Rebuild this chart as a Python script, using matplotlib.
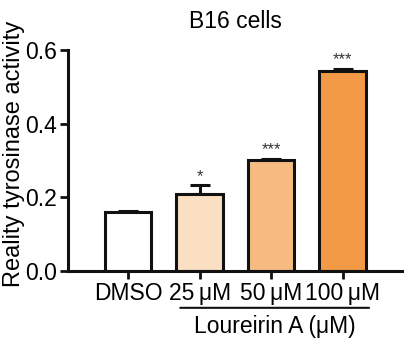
import matplotlib
matplotlib.use('Agg')
import matplotlib.pyplot as plt

plt.rcParams['font.family'] = ['Liberation Sans', 'DejaVu Sans']

groups = ['DMSO', '25\u2009\u03bcM', '50\u2009\u03bcM', '100\u2009\u03bcM']
values = [0.160, 0.209, 0.301, 0.543]
errors = [0.004, 0.023, 0.003, 0.006]
stars = ['', '*', '***', '***']
colors = ['#ffffff', '#fbdfc2', '#f5bb80', '#f29a45']

fig = plt.figure(figsize=(4.13, 3.51), dpi=100)
ax = fig.add_axes([0.165, 0.228, 0.808, 0.630])

x = list(range(len(groups)))
ax.bar(x, values, width=0.65, color=colors, edgecolor='#111111', linewidth=2.2, zorder=2)
ax.errorbar(x, values, yerr=[[0] * len(errors), errors], fmt='none', ecolor='#111111',
            elinewidth=2.2, capsize=7, capthick=2.2, zorder=1)
for xi, v, e, s in zip(x, values, errors, stars):
    if s:
        ax.text(xi, v + e + 0.004, s, ha='center', va='bottom', fontsize=12, color='#333333')

ax.set_xlim(-0.84, 3.83)
ax.set_ylim(0, 0.6)
ax.set_yticks([0.0, 0.2, 0.4, 0.6])
ax.set_yticklabels(['0.0', '0.2', '0.4', '0.6'])
ax.set_xticks(x)
ax.set_xticklabels(groups)
ax.tick_params(axis='both', labelsize=16.5, width=2, length=6, color='#111111', pad=2)
ax.spines['top'].set_visible(False)
ax.spines['right'].set_visible(False)
for sp in ['left', 'bottom']:
    ax.spines[sp].set_linewidth(2.2)
    ax.spines[sp].set_color('#111111')
ax.set_ylabel('Reality tyrosinase activity', fontsize=17)
ax.yaxis.set_label_coords(-0.130, 0.53)
ax.set_title('B16 cells', fontsize=16.5, pad=16)

# group bracket
ax.annotate('', xy=(0.69, -0.10), xytext=(3.41, -0.10), xycoords='data',
            arrowprops=dict(arrowstyle='-', lw=1.5, color='#111111'), annotation_clip=False)
ax.text(2.05, -0.152, 'Loureirin A (\u03bcM)', ha='center', va='center', fontsize=16.5,
        clip_on=False)

fig.savefig('out.png', dpi=100)
